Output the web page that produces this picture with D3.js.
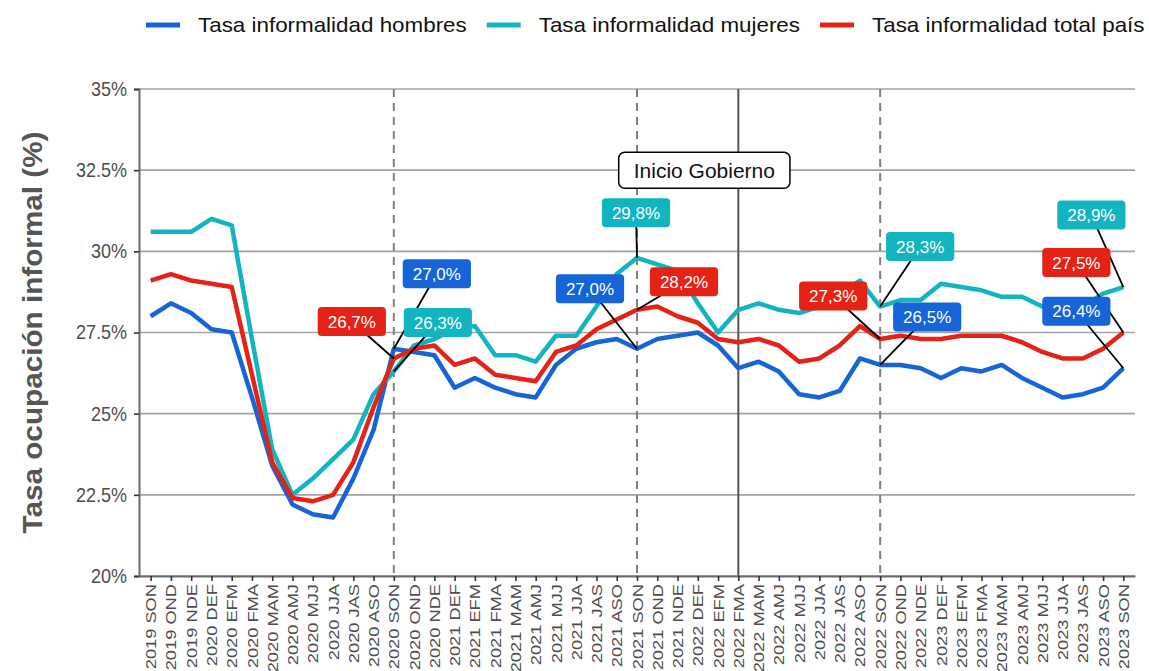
<!DOCTYPE html>
<html>
<head>
<meta charset="utf-8">
<script src="https://cdnjs.cloudflare.com/ajax/libs/d3/7.8.5/d3.min.js"></script>
<style>
  body { margin: 0; background: #fff; }
  text { font-family: "Liberation Sans", Arial, sans-serif; }
</style>
</head>
<body>
<svg id="chart" width="1149" height="671"></svg>
<script>
// trimestres moviles
var periodos = ["2019 SON","2019 OND","2019 NDE","2020 DEF","2020 EFM","2020 FMA","2020 MAM","2020 AMJ","2020 MJJ","2020 JJA","2020 JAS","2020 ASO",
  "2020 SON","2020 OND","2020 NDE","2021 DEF","2021 EFM","2021 FMA","2021 MAM","2021 AMJ","2021 MJJ","2021 JJA","2021 JAS","2021 ASO",
  "2021 SON","2021 OND","2021 NDE","2022 DEF","2022 EFM","2022 FMA","2022 MAM","2022 AMJ","2022 MJJ","2022 JJA","2022 JAS","2022 ASO",
  "2022 SON","2022 OND","2022 NDE","2023 DEF","2023 EFM","2023 FMA","2023 MAM","2023 AMJ","2023 MJJ","2023 JJA","2023 JAS","2023 ASO","2023 SON"];

var hombres = [28.0,28.4,28.1,27.6,27.5,25.5,23.4,22.2,21.9,21.8,23.0,24.5,
  27.0,26.9,26.8,25.8,26.1,25.8,25.6,25.5,26.5,27.0,27.2,27.3,
  27.0,27.3,27.4,27.5,27.1,26.4,26.6,26.3,25.6,25.5,25.7,26.7,
  26.5,26.5,26.4,26.1,26.4,26.3,26.5,26.1,25.8,25.5,25.6,25.8,26.4];

var mujeres = [30.6,30.6,30.6,31.0,30.8,27.3,23.9,22.5,23.0,23.6,24.2,25.6,
  26.3,27.1,27.3,27.6,27.7,26.8,26.8,26.6,27.4,27.4,28.3,29.3,
  29.8,29.6,29.4,28.4,27.5,28.2,28.4,28.2,28.1,28.3,28.7,29.1,
  28.3,28.5,28.5,29.0,28.9,28.8,28.6,28.6,28.3,28.2,28.3,28.7,28.9];

var total = [29.1,29.3,29.1,29.0,28.9,26.2,23.5,22.4,22.3,22.5,23.5,25.2,
  26.7,27.0,27.1,26.5,26.7,26.2,26.1,26.0,26.9,27.1,27.6,27.9,
  28.2,28.3,28.0,27.8,27.3,27.2,27.3,27.1,26.6,26.7,27.1,27.7,
  27.3,27.4,27.3,27.3,27.4,27.4,27.4,27.2,26.9,26.7,26.7,27.0,27.5];

var yTicks = [20, 22.5, 25, 27.5, 30, 32.5, 35];

// lineas verticales de referencia
var periodosCorte = ["2020 SON","2021 SON","2022 SON"];
var periodoGobierno = "2022 FMA";

var series = [
  {nombre: "Tasa informalidad hombres", valores: hombres, color: "#1565d8"},
  {nombre: "Tasa informalidad mujeres", valores: mujeres, color: "#12b4c0"},
  {nombre: "Tasa informalidad total país", valores: total, color: "#e52216"}
];

// etiquetas: serie, periodo y desplazamiento de la caja (px)
var etiquetas = [
  {s: 2, p: "2020 SON", dx: -42, dy: -37},
  {s: 0, p: "2020 SON", dx: 43, dy: -75},
  {s: 1, p: "2020 SON", dx: 44, dy: -49},
  {s: 1, p: "2021 SON", dx: -1, dy: -45},
  {s: 0, p: "2021 SON", dx: -47, dy: -60},
  {s: 2, p: "2021 SON", dx: 47, dy: -28},
  {s: 2, p: "2022 SON", dx: -47, dy: -43},
  {s: 1, p: "2022 SON", dx: 40, dy: -60},
  {s: 0, p: "2022 SON", dx: 47, dy: -48},
  {s: 1, p: "2023 SON", dx: -32, dy: -72},
  {s: 2, p: "2023 SON", dx: -47, dy: -70},
  {s: 0, p: "2023 SON", dx: -47, dy: -57}
];

var svg = d3.select("#chart");
var pLeft = 139, pRight = 1135, pTop = 89, pBottom = 576;

var x = d3.scalePoint().domain(periodos).range([pLeft, pRight]).padding(0.575);
var y = d3.scaleLinear().domain([20, 35]).range([pBottom, pTop]);

// grid
svg.append("g").selectAll("line").data(yTicks).enter().append("line")
  .attr("x1", pLeft).attr("x2", pRight)
  .attr("y1", function(d){ return y(d); }).attr("y2", function(d){ return y(d); })
  .attr("stroke", "#a3a3a3").attr("stroke-width", 1.6);

// vertical lines
svg.append("g").selectAll("line").data(periodosCorte).enter().append("line")
  .attr("x1", function(d){ return x(d); }).attr("x2", function(d){ return x(d); })
  .attr("y1", pTop).attr("y2", pBottom)
  .attr("stroke", "#808080").attr("stroke-width", 2).attr("stroke-dasharray", "8,6");

svg.append("line")
  .attr("x1", x(periodoGobierno)).attr("x2", x(periodoGobierno))
  .attr("y1", pTop).attr("y2", pBottom)
  .attr("stroke", "#555").attr("stroke-width", 2);

// axes
var yAxis = svg.append("g").attr("transform", "translate(" + pLeft + ",0)")
  .call(d3.axisLeft(y).tickValues(yTicks).tickSize(5).tickPadding(6)
    .tickFormat(function(d){ return (d % 1 ? d.toFixed(1) : d) + "%"; }));
yAxis.select(".domain").attr("stroke", "#6b6b6b").attr("stroke-width", 2);
yAxis.selectAll(".tick line").attr("stroke", "#333").attr("stroke-width", 1.6);
yAxis.selectAll(".tick text").attr("font-size", 20).attr("fill", "#4d4d4d")
  .style("font-family", "'Liberation Sans', Arial, sans-serif")
  .attr("x", 0).attr("transform", "translate(-12,0) scale(0.9,1)");

var xAxis = svg.append("g").attr("transform", "translate(0," + pBottom + ")")
  .call(d3.axisBottom(x).tickSize(5).tickSizeOuter(0));
xAxis.select(".domain").attr("stroke", "#6b6b6b").attr("stroke-width", 2);
xAxis.selectAll(".tick line").attr("stroke", "#333").attr("stroke-width", 1.6);
xAxis.selectAll(".tick text")
  .attr("font-size", 14.5).attr("fill", "#4d4d4d")
  .style("font-family", "'Liberation Sans', Arial, sans-serif")
  .attr("text-anchor", "end").attr("dy", "0.35em")
  .attr("transform", "translate(0,8) rotate(-90) scale(1.26,1)")
  .attr("x", 0).attr("y", 0);

// y title
svg.append("text")
  .attr("transform", "translate(42," + ((pTop + pBottom) / 2) + ") rotate(-90) scale(1.1,1)")
  .attr("text-anchor", "middle")
  .attr("font-size", 27).attr("font-weight", "bold").attr("fill", "#555")
  .text("Tasa ocupación informal (%)");

// lines
var line = d3.line()
  .x(function(d, i){ return x(periodos[i]); })
  .y(function(d){ return y(d); });

series.forEach(function(s){
  svg.append("path").datum(s.valores)
    .attr("d", line)
    .attr("fill", "none")
    .attr("stroke", s.color)
    .attr("stroke-width", 4.5)
    .attr("stroke-linejoin", "round");
});

// Inicio Gobierno
var gob = svg.append("g").attr("transform", "translate(" + (x(periodoGobierno) - 34) + "," + y(32.5) + ")");
var gobText = gob.append("text").attr("text-anchor", "middle").attr("dy", "0.35em")
  .attr("font-size", 21).attr("fill", "#111").text("Inicio Gobierno");
var gw = gobText.node().getComputedTextLength();
gob.insert("rect", "text")
  .attr("x", -gw / 2 - 15).attr("y", -18).attr("width", gw + 30).attr("height", 36)
  .attr("rx", 6).attr("fill", "#fff").attr("stroke", "#000").attr("stroke-width", 1.5);

// data labels
var fmt = d3.format(".1f");
var etq = svg.append("g");
etiquetas.forEach(function(e){
  var s = series[e.s];
  var i = periodos.indexOf(e.p);
  var px = x(e.p), py = y(s.valores[i]);
  etq.append("line")
    .attr("x1", px).attr("y1", py)
    .attr("x2", px + e.dx).attr("y2", py + e.dy)
    .attr("stroke", "#000").attr("stroke-width", 1.8);
});
etiquetas.forEach(function(e){
  var s = series[e.s];
  var i = periodos.indexOf(e.p);
  var px = x(e.p), py = y(s.valores[i]);
  var g = etq.append("g").attr("transform", "translate(" + (px + e.dx) + "," + (py + e.dy) + ")");
  var t = g.append("text").attr("text-anchor", "middle").attr("dy", "0.36em")
    .attr("font-size", 17).attr("fill", "#fff")
    .text(fmt(s.valores[i]).replace(".", ",") + "%");
  var w = t.node().getComputedTextLength();
  g.insert("rect", "text")
    .attr("x", -w / 2 - 10).attr("y", -14.5).attr("width", w + 20).attr("height", 29)
    .attr("rx", 4).attr("fill", s.color);
});

// legend
var lx = 146;
series.forEach(function(s){
  svg.append("line").attr("x1", lx).attr("x2", lx + 34).attr("y1", 25).attr("y2", 25)
    .attr("stroke", s.color).attr("stroke-width", 5);
  var t = svg.append("text").attr("x", lx + 52).attr("y", 25).attr("dy", "0.35em")
    .attr("font-size", 20).attr("fill", "#111").text(s.nombre)
    .attr("transform", "translate(" + (lx + 52) + ",0) scale(1.12,1) translate(" + (-(lx + 52)) + ",0)");
  lx = lx + 52 + t.node().getComputedTextLength() * 1.12 + 20;
});
</script>
</body>
</html>
